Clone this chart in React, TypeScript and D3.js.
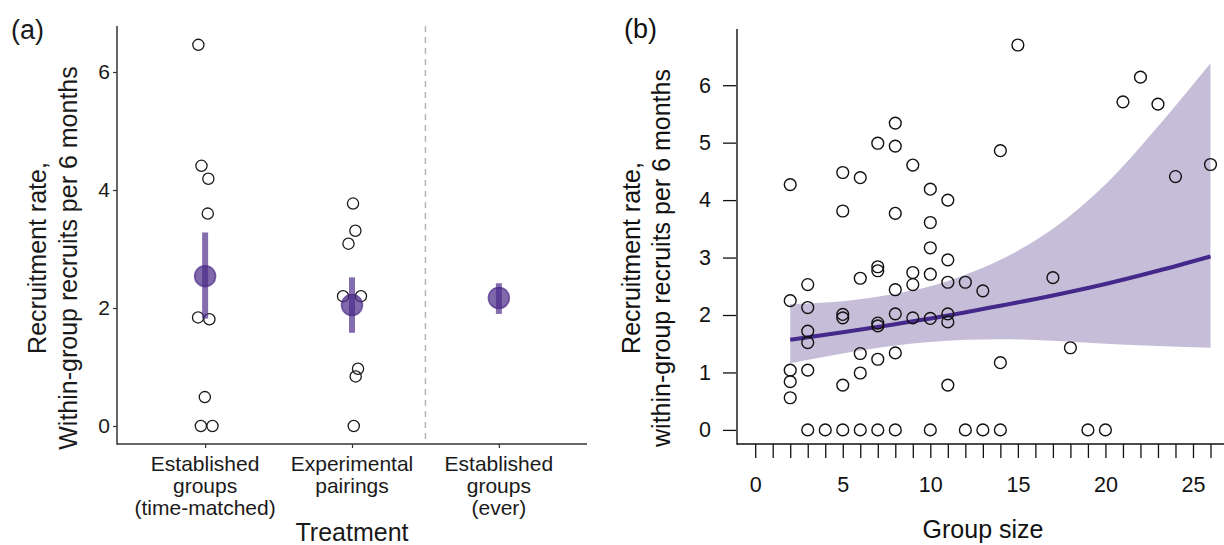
import React, { useEffect, useRef } from "react";
import * as d3 from "d3";

// ---- panel (a): recruitment by treatment ----
const treatmentLabels = [
  ["Established", "groups", "(time-matched)"],
  ["Experimental", "pairings"],
  ["Established", "groups", "(ever)"],
];
// raw points, jitter is in treatment units
const timeMatchedRates = [6.46, 4.41, 4.19, 3.6, 1.84, 1.81, 0.49, 0, 0];
const timeMatchedJitter = [-0.046, -0.025, 0.022, 0.018, -0.048, 0.029, -0.002, -0.029, 0.05];
const pairingRates = [3.77, 3.31, 3.09, 2.2, 2.2, 0.97, 0.84, 0];
const pairingJitter = [0.007, 0.023, -0.024, -0.061, 0.061, 0.041, 0.025, 0.012];
const treatmentMeans = [2.54, 2.05, 2.17];
const treatmentLower = [1.82, 1.58, 1.9];
const treatmentUpper = [3.28, 2.52, 2.42];
const rateTicksA = [0, 2, 4, 6];

// ---- panel (b): recruitment vs group size ----
const groupSize = [
  2, 2, 2, 2, 2,
  3, 3, 3, 3, 3, 3,
  4,
  5, 5, 5, 5, 5, 5,
  6, 6, 6, 6, 6,
  7, 7, 7, 7, 7, 7, 7,
  8, 8, 8, 8, 8, 8, 8,
  9, 9, 9, 9,
  10, 10, 10, 10, 10, 10,
  11, 11, 11, 11, 11, 11,
  12, 12, 13, 13,
  14, 14, 14,
  15, 17, 18, 19, 20, 21, 22, 23, 24, 26,
];
const recruitRate = [
  4.27, 2.25, 1.04, 0.84, 0.56,
  2.53, 2.13, 1.72, 1.52, 1.04, 0,
  0,
  4.48, 3.81, 2.01, 1.95, 0.78, 0,
  4.39, 2.64, 1.33, 0.99, 0,
  4.99, 2.84, 2.77, 1.86, 1.81, 1.23, 0,
  5.34, 4.94, 3.77, 2.44, 2.02, 1.34, 0,
  4.61, 2.74, 2.53, 1.95,
  4.19, 3.61, 3.17, 2.71, 1.94, 0,
  4.0, 2.96, 2.57, 2.02, 1.88, 0.78,
  2.57, 0, 2.42, 0,
  4.86, 1.17, 0,
  6.7, 2.65, 1.43, 0, 0, 5.71, 6.14, 5.67, 4.41, 4.62,
];
const fitSize = [2, 5, 8, 11, 14, 17, 20, 23, 26];
const fitRate = [1.57, 1.7, 1.84, 1.99, 2.16, 2.34, 2.54, 2.77, 3.02];
const bandSize = [2, 5, 8, 10, 12, 14, 17, 20, 23, 26];
const bandLower = [1.16, 1.33, 1.47, 1.53, 1.57, 1.58, 1.55, 1.5, 1.46, 1.43];
const bandUpper = [2.19, 2.24, 2.37, 2.5, 2.7, 2.96, 3.5, 4.27, 5.28, 6.38];
const sizeTickLabels = [0, 5, 10, 15, 20, 25];
const rateTicksB = [0, 1, 2, 3, 4, 5, 6];

const FONT = "'Liberation Sans', Arial, Helvetica, sans-serif";
const PURPLE = "#4a2a87";

export default function App() {
  const ref = useRef<SVGSVGElement>(null);

  useEffect(() => {
    const svg = d3.select(ref.current);
    svg.selectAll("*").remove();
    svg.style("font-family", FONT);

    // ================= panel (a) =================
    const top = 26, bottom = 444, left = 117, right = 587;
    const x = d3.scaleLinear().domain([0.4, 3.6]).range([left, right]);
    const y = d3.scaleLinear().domain([0, 6]).range([426, 72]);
    const a = svg.append("g");

    // separator between time-matched comparison and overall estimate
    a.append("line")
      .attr("x1", x(2.5)).attr("x2", x(2.5))
      .attr("y1", top).attr("y2", bottom)
      .attr("stroke", "#b3b3b3").attr("stroke-width", 1.5)
      .attr("stroke-dasharray", "6,5");

    const yAx = a.append("g")
      .attr("transform", `translate(${left},0)`)
      .call(d3.axisLeft(y).tickValues(rateTicksA).tickSize(4).tickPadding(3).tickFormat(d3.format("d")));
    yAx.select(".domain").remove();
    yAx.selectAll("line").attr("stroke", "#333").attr("stroke-width", 1.2);
    yAx.selectAll("text").attr("font-size", 21).attr("fill", "#1a1a1a").attr("font-family", FONT);

    const xAx = a.append("g")
      .attr("transform", `translate(0,${bottom})`)
      .call(d3.axisBottom(x).tickValues([1, 2, 3]).tickSize(4).tickFormat(() => ""));
    xAx.select(".domain").remove();
    xAx.selectAll("line").attr("stroke", "#333").attr("stroke-width", 1.2);

    a.append("line").attr("x1", left).attr("x2", left).attr("y1", top).attr("y2", bottom + 0.7)
      .attr("stroke", "#333").attr("stroke-width", 1.5);
    a.append("line").attr("x1", left).attr("x2", right).attr("y1", bottom).attr("y2", bottom)
      .attr("stroke", "#333").attr("stroke-width", 1.5);

    treatmentLabels.forEach((lines, i) => {
      lines.forEach((l, j) => {
        a.append("text")
          .attr("x", x(i + 1)).attr("y", 471 + j * 22)
          .attr("text-anchor", "middle").attr("font-size", 21).attr("fill", "#1a1a1a")
          .text(l);
      });
    });

    a.append("text").attr("x", x(2)).attr("y", 541).attr("text-anchor", "middle")
      .attr("font-size", 25).attr("fill", "#1a1a1a").text("Treatment");

    const yl = a.append("g").attr("transform", "translate(0,258) rotate(-90)");
    yl.append("text").attr("x", 0).attr("y", 46).attr("text-anchor", "middle")
      .attr("font-size", 25).attr("fill", "#1a1a1a").text("Recruitment rate,");
    yl.append("text").attr("x", 0).attr("y", 77).attr("text-anchor", "middle")
      .attr("font-size", 25).attr("fill", "#1a1a1a").text("Within-group recruits per 6 months");

    a.append("text").attr("x", 11).attr("y", 39).attr("font-size", 27).attr("fill", "#1a1a1a").text("(a)");

    const rawA = [
      ...timeMatchedRates.map((v, i) => ({ g: 1 + timeMatchedJitter[i], v })),
      ...pairingRates.map((v, i) => ({ g: 2 + pairingJitter[i], v })),
    ];
    a.selectAll("circle.raw").data(rawA).join("circle")
      .attr("class", "raw")
      .attr("cx", d => x(d.g)).attr("cy", d => y(d.v)).attr("r", 5.6)
      .attr("fill", "none").attr("stroke", "#1a1a1a").attr("stroke-width", 1.3);

    const summary = treatmentMeans.map((m, i) => ({ i: i + 1, m, lo: treatmentLower[i], hi: treatmentUpper[i] }));
    a.selectAll("rect.ci").data(summary).join("rect")
      .attr("class", "ci")
      .attr("x", d => x(d.i) - 3).attr("width", 6)
      .attr("y", d => y(d.hi)).attr("height", d => y(d.lo) - y(d.hi))
      .attr("fill", PURPLE).attr("fill-opacity", 0.68);
    a.selectAll("circle.mean").data(summary).join("circle")
      .attr("class", "mean")
      .attr("cx", d => x(d.i)).attr("cy", d => y(d.m)).attr("r", 10.5)
      .attr("fill", PURPLE).attr("fill-opacity", 0.7)
      .attr("stroke", PURPLE).attr("stroke-opacity", 0.7).attr("stroke-width", 1.5);

    // ================= panel (b) =================
    const bLeft = 737, bBottom = 444, bTop = 29;
    const xb = d3.scaleLinear().domain([0, 26]).range([755.2, 1210.5]);
    const yb = d3.scaleLinear().domain([0, 6]).range([429.9, 85.2]);
    const b = svg.append("g");

    const band = d3.area<number>()
      .x((_, i) => xb(bandSize[i]))
      .y0((_, i) => yb(bandLower[i]))
      .y1((_, i) => yb(bandUpper[i]))
      .curve(d3.curveMonotoneX);
    b.append("path").datum(bandSize).attr("d", band).attr("fill", "#c6bed9");

    const fit = d3.line<number>()
      .x((_, i) => xb(fitSize[i]))
      .y((_, i) => yb(fitRate[i]))
      .curve(d3.curveMonotoneX);
    b.append("path").datum(fitSize).attr("d", fit)
      .attr("fill", "none").attr("stroke", "#44288a").attr("stroke-width", 4);

    b.selectAll("circle.pt").data(groupSize.map((s, i) => ({ s, r: recruitRate[i] }))).join("circle")
      .attr("class", "pt")
      .attr("cx", d => xb(d.s)).attr("cy", d => yb(d.r)).attr("r", 5.9)
      .attr("fill", "none").attr("stroke", "#111").attr("stroke-width", 1.4);

    const ybAx = b.append("g")
      .attr("transform", `translate(${bLeft - 1},0)`)
      .call(d3.axisLeft(yb).tickValues(rateTicksB).tickSize(13).tickPadding(12).tickFormat(d3.format("d")));
    ybAx.select(".domain").remove();
    ybAx.selectAll("line").attr("stroke", "#111").attr("stroke-width", 1.3);
    ybAx.selectAll("text").attr("font-size", 21.5).attr("fill", "#111").attr("font-family", FONT);

    const xbAx = b.append("g")
      .attr("transform", `translate(0,${bBottom})`)
      .call(d3.axisBottom(xb).tickValues(d3.range(0, 27)).tickSize(14).tickPadding(19)
        .tickFormat(d => (sizeTickLabels.includes(+d) ? String(d) : "")));
    xbAx.select(".domain").remove();
    xbAx.selectAll("line").attr("stroke", "#111").attr("stroke-width", 1.3);
    xbAx.selectAll("text").attr("font-size", 21.5).attr("fill", "#111").attr("font-family", FONT);

    b.append("line").attr("x1", bLeft).attr("x2", bLeft).attr("y1", bTop).attr("y2", bBottom + 0.7)
      .attr("stroke", "#111").attr("stroke-width", 1.4);
    b.append("line").attr("x1", bLeft).attr("x2", 1224).attr("y1", bBottom).attr("y2", bBottom)
      .attr("stroke", "#111").attr("stroke-width", 1.4);

    b.append("text").attr("x", 983).attr("y", 538).attr("text-anchor", "middle")
      .attr("font-size", 25).attr("fill", "#111").text("Group size");

    const ylb = b.append("g").attr("transform", "translate(0,258) rotate(-90)");
    ylb.append("text").attr("x", 0).attr("y", 640).attr("text-anchor", "middle")
      .attr("font-size", 25).attr("fill", "#111").text("Recruitment rate,");
    ylb.append("text").attr("x", 0).attr("y", 670).attr("text-anchor", "middle")
      .attr("font-size", 25).attr("fill", "#111").text("within-group recruits per 6 months");

    b.append("text").attr("x", 624).attr("y", 38).attr("font-size", 27).attr("fill", "#111").text("(b)");
  }, []);

  return (
    <svg
      ref={ref}
      width={1224}
      height={545}
      style={{ position: "absolute", left: 0, top: 0, background: "#fff" }}
    />
  );
}
